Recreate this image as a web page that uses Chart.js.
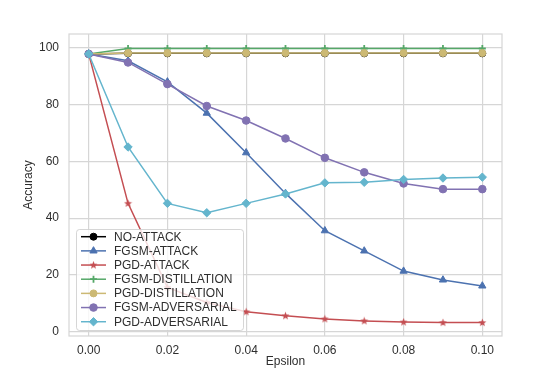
<!DOCTYPE html>
<html>
<head>
<meta charset="utf-8">
<script src="https://cdn.jsdelivr.net/npm/chart.js@4.4.1/dist/chart.umd.min.js"></script>
<style>
  html, body { margin: 0; padding: 0; background: #fff; }
  #wrap { width: 538px; height: 379px; }
</style>
</head>
<body>
<div id="wrap"><canvas id="accChart" width="538" height="379"></canvas></div>
<script>
const epsilons = [0, 0.01, 0.02, 0.03, 0.04, 0.05, 0.06, 0.07, 0.08, 0.09, 0.10];
const noAttack = [97.7, 97.9, 97.9, 97.9, 97.9, 97.9, 97.9, 97.9, 97.9, 97.9, 97.9];
const fgsmAttack = [97.7, 95.3, 87.9, 76.9, 63.0, 48.7, 35.6, 28.5, 21.4, 18.3, 16.2];
const pgdAttack = [97.7, 45.2, 15.7, 10.4, 7.1, 5.7, 4.6, 3.9, 3.5, 3.3, 3.3];
const fgsmDistillation = [97.7, 99.6, 99.6, 99.6, 99.6, 99.6, 99.6, 99.6, 99.6, 99.6, 99.6];
const pgdDistillation = [97.7, 98.0, 98.0, 98.0, 98.0, 98.0, 98.0, 98.0, 98.0, 98.0, 98.0];
const fgsmAdversarial = [97.7, 94.7, 87.1, 79.4, 74.3, 68.0, 61.2, 56.1, 52.2, 50.2, 50.2];
const pgdAdversarial = [97.7, 65.0, 45.2, 41.9, 45.2, 48.5, 52.4, 52.6, 53.6, 54.1, 54.4];

const seriesNames = ['NO-ATTACK', 'FGSM-ATTACK', 'PGD-ATTACK', 'FGSM-DISTILLATION',
                     'PGD-DISTILLATION', 'FGSM-ADVERSARIAL', 'PGD-ADVERSARIAL'];
const xTicks = [0, 0.02, 0.04, 0.06, 0.08, 0.10];
const yTicks = [0, 20, 40, 60, 80, 100];

const FONT = "'Liberation Sans', Arial, sans-serif";
const TEXT = '#2e2e2e';
const GRID = '#d6d6d6';

// small filled star, like matplotlib '*'
function makeStar(color) {
    const c = document.createElement('canvas');
    c.width = 9; c.height = 9;
    const g = c.getContext('2d');
    g.fillStyle = color;
    g.beginPath();
    for (let i = 0; i < 10; i++) {
        const r = i % 2 === 0 ? 4.2 : 1.8;
        const a = -Math.PI / 2 + i * Math.PI / 5;
        const px = 4.5 + r * Math.cos(a), py = 4.7 + r * Math.sin(a);
        if (i === 0) g.moveTo(px, py); else g.lineTo(px, py);
    }
    g.closePath();
    g.fill();
    return c;
}

const styles = [
    { color: '#000000', point: 'circle', radius: 3.5 },
    { color: '#4C72B0', point: 'triangle', radius: 4.2 },
    { color: '#C44E52', point: makeStar('#C44E52'), radius: 4 },
    { color: '#55A868', point: 'cross', radius: 3.5, pbw: 1.8 },
    { color: '#CCB974', point: 'circle', radius: 3.5 },
    { color: '#8172B2', point: 'circle', radius: 3.8 },
    { color: '#64B5CD', point: 'rectRot', radius: 4.2 }
];

const allSeries = [noAttack, fgsmAttack, pgdAttack, fgsmDistillation,
                   pgdDistillation, fgsmAdversarial, pgdAdversarial];

const datasets = allSeries.map((vals, i) => ({
    label: seriesNames[i],
    data: vals.map((v, j) => ({ x: epsilons[j], y: v })),
    borderColor: styles[i].color,
    backgroundColor: styles[i].color,
    pointBackgroundColor: styles[i].color,
    pointBorderColor: styles[i].color,
    pointStyle: styles[i].point,
    pointRadius: styles[i].radius,
    pointBorderWidth: styles[i].pbw || 1,
    borderWidth: 1.5,
    tension: 0,
    order: allSeries.length - i
}));

const framePlugin = {
    id: 'frame',
    beforeDatasetsDraw(chart) {
        const { ctx, chartArea: a } = chart;
        ctx.save();
        ctx.strokeStyle = GRID;
        ctx.lineWidth = 1.2;
        ctx.strokeRect(a.left, a.top, a.right - a.left, a.bottom - a.top);
        ctx.restore();
    },
    afterDatasetsDraw(chart) {
        // legend inside the axes, lower left
        const ctx = chart.ctx;
        const box = { l: 76, t: 229, r: 243, b: 330 };
        ctx.save();
        ctx.fillStyle = 'rgba(255,255,255,0.8)';
        ctx.strokeStyle = 'rgba(204,204,204,0.8)';
        ctx.lineWidth = 1;
        ctx.beginPath();
        ctx.roundRect(box.l + 0.5, box.t + 0.5, box.r - box.l, box.b - box.t, 3);
        ctx.fill();
        ctx.stroke();
        ctx.font = '12px ' + FONT;
        ctx.textBaseline = 'middle';
        ctx.textAlign = 'left';
        seriesNames.forEach((name, i) => {
            const y = 236.7 + i * 14.17;
            const st = styles[i];
            ctx.strokeStyle = st.color;
            ctx.fillStyle = st.color;
            ctx.lineWidth = 1.5;
            ctx.beginPath();
            ctx.moveTo(81, y);
            ctx.lineTo(106, y);
            ctx.stroke();
            ctx.lineWidth = st.pbw || 1;
            Chart.helpers.drawPoint(ctx, { pointStyle: st.point, radius: st.radius, rotation: 0, borderWidth: st.pbw || 1 }, 93.5, y);
            ctx.fillStyle = TEXT;
            ctx.fillText(name, 114, y + 0.5);
        });
        ctx.restore();
    }
};

new Chart(document.getElementById('accChart').getContext('2d'), {
    type: 'line',
    data: { datasets },
    options: {
        responsive: false,
        animation: false,
        layout: { padding: { left: 0, top: 34, right: 36, bottom: 0 } },
        plugins: {
            legend: { display: false },
            tooltip: { enabled: false }
        },
        scales: {
            x: {
                type: 'linear',
                min: -0.005,
                max: 0.105,
                afterBuildTicks: s => { s.ticks = xTicks.map(v => ({ value: v })); },
                afterFit: s => { s.height = 43; },
                grid: { color: GRID, lineWidth: 1.2, drawTicks: false },
                border: { display: false },
                ticks: {
                    padding: 7,
                    color: TEXT,
                    font: { family: FONT, size: 12 },
                    callback: v => v.toFixed(2)
                },
                title: {
                    display: true,
                    text: 'Epsilon',
                    color: TEXT,
                    font: { family: FONT, size: 12 },
                    padding: { top: 0, bottom: 10 }
                }
            },
            y: {
                min: -1.4,
                max: 104.7,
                afterBuildTicks: s => { s.ticks = yTicks.map(v => ({ value: v })); },
                afterFit: s => { s.width = 69; },
                grid: { color: GRID, lineWidth: 1.2, drawTicks: false },
                border: { display: false },
                ticks: {
                    padding: 10,
                    color: TEXT,
                    font: { family: FONT, size: 12 },
                    callback: v => String(v)
                },
                title: {
                    display: true,
                    text: 'Accuracy',
                    color: TEXT,
                    font: { family: FONT, size: 12 },
                    padding: { top: 21, bottom: 0 }
                }
            }
        }
    },
    plugins: [framePlugin]
});
</script>
</body>
</html>
